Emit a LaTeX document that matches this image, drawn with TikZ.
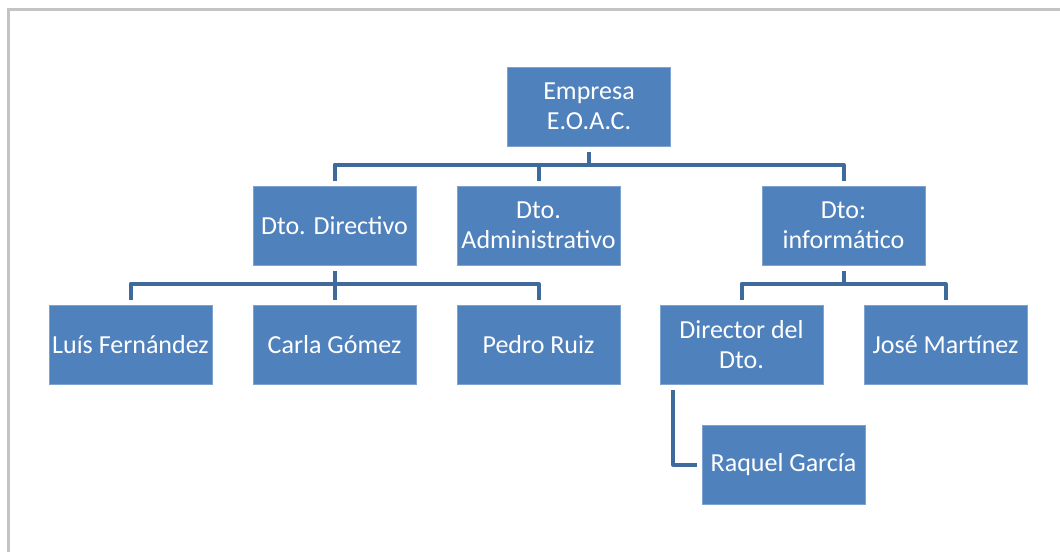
\documentclass[tikz,border=0pt]{standalone}
\usepackage{fontspec}
\setmainfont{Carlito}
\definecolor{boxblue}{HTML}{4F81BD}
\definecolor{boxedge}{HTML}{7EA3D0}
\definecolor{linkblue}{HTML}{3E6A9C}
\definecolor{framegray}{HTML}{C4C4C4}
\tikzset{
  orgbox/.style={rectangle, fill=boxblue, draw=boxedge, line width=0.6pt,
    minimum width=163pt, minimum height=79pt, inner xsep=0pt, inner ysep=2pt,
    align=center, text=white,
    font=\fontsize{26pt}{30pt}\selectfont},
  conn/.style={draw=linkblue, line width=4pt, line join=round, line cap=butt},
  frameline/.style={draw=framegray, line width=3pt}
}
\begin{document}
\begin{tikzpicture}[x=1pt,y=1pt]
\useasboundingbox (0,0) rectangle (1060,-552);
\fill[white] (0,0) rectangle (1060,-552);
\coordinate (fbl) at (8.5,-552);
\coordinate (ftl) at (8.5,-9.5);
\coordinate (ftr) at (1060,-9.5);
\draw[frameline] (fbl) -- (ftl) -- (ftr);

\node[orgbox] (emp) at (589,-106.5) {Empresa\\E.O.A.C.};
\node[orgbox] (dir) at (334.5,-225.5) {Dto. Directivo};
\node[orgbox] (adm) at (538.5,-225.5) {Dto.\\Administrativo};
\node[orgbox] (inf) at (843.5,-225.5) {Dto:\\informático};
\node[orgbox] (lf) at (130.5,-344.5) {Luís Fernández};
\node[orgbox] (cg) at (334.5,-344.5) {Carla Gómez};
\node[orgbox] (pr) at (538.5,-344.5) {Pedro Ruiz};
\node[orgbox] (dd) at (741.5,-344.5) {Director del\\Dto.};
\node[orgbox] (jm) at (945.5,-344.5) {José Martínez};
\node[orgbox] (rg) at (783.5,-464.5) {Raquel García};

% level 1 -> 2
\draw[conn] ([yshift=-6pt]emp.south) |- ([yshift=21pt]dir.north) -- ([yshift=5pt]dir.north);
\draw[conn] ([yshift=-6pt]emp.south) |- ([yshift=21pt]inf.north) -- ([yshift=5pt]inf.north);
\draw[conn] ([yshift=21pt]adm.north) -- ([yshift=5pt]adm.north);

% Dto. Directivo -> staff
\draw[conn] ([yshift=-6pt]dir.south) |- ([yshift=21pt]lf.north) -- ([yshift=5pt]lf.north);
\draw[conn] ([yshift=-6pt]dir.south) |- ([yshift=21pt]pr.north) -- ([yshift=5pt]pr.north);
\draw[conn] ([yshift=-6pt]dir.south) -- ([yshift=5pt]cg.north);

% Dto informático -> staff
\draw[conn] ([yshift=-6pt]inf.south) |- ([yshift=21pt]dd.north) -- ([yshift=5pt]dd.north);
\draw[conn] ([yshift=-6pt]inf.south) |- ([yshift=21pt]jm.north) -- ([yshift=5pt]jm.north);

% Director del Dto. -> Raquel García
\draw[conn] ([xshift=13pt,yshift=-6pt]dd.south west) |- ([xshift=-5pt]rg.west);
\end{tikzpicture}
\end{document}
